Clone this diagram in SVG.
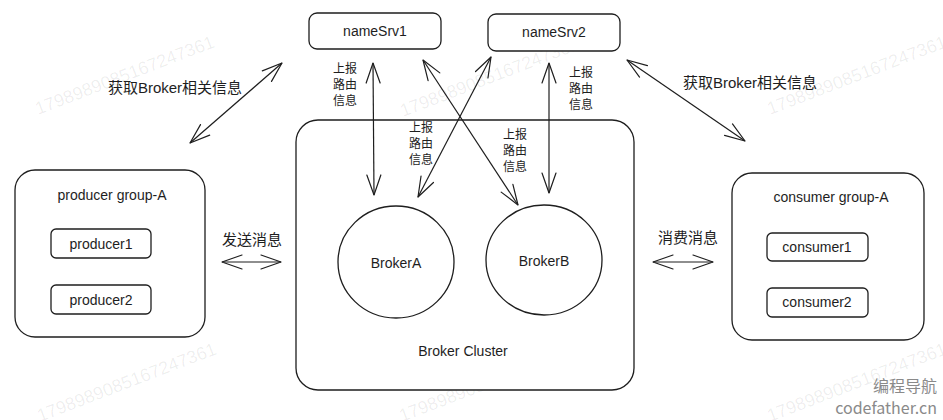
<svg xmlns="http://www.w3.org/2000/svg" width="943" height="420" viewBox="0 0 943 420">
<style>
.box{fill:#fff;stroke:#1e1e1e;stroke-width:1.3}
.lbl{font-family:"Liberation Sans","DejaVu Sans",sans-serif;font-size:14px;fill:#1e1e1e;text-anchor:middle}
.cjk{font-family:"Liberation Sans","Noto Sans CJK SC",sans-serif;font-size:15px;fill:#1e1e1e;text-anchor:middle}
.sm{font-family:"Noto Sans CJK SC",sans-serif;font-size:12px;fill:#1e1e1e;text-anchor:middle}
.con{fill:none;stroke:#1e1e1e;stroke-width:1.2;marker-start:url(#ah);marker-end:url(#ah)}
.wm{font-family:"Liberation Sans",sans-serif;font-size:18px;fill:#000;fill-opacity:0.07}
.logo{font-family:"Noto Sans CJK SC",sans-serif;font-size:16px;fill:#8a8a8a;text-anchor:end}
</style>
<defs>
<marker id="ah" viewBox="-22 -10 24 20" markerWidth="24" markerHeight="20" refX="0" refY="0" orient="auto-start-reverse" markerUnits="userSpaceOnUse">
<path d="M-20 -7 L0 0 L-20 7" fill="none" stroke="#1e1e1e" stroke-width="1.2" stroke-linecap="round" stroke-linejoin="round"/>
</marker>
</defs>
<rect width="943" height="420" fill="#fff"/>

<g id="watermarks">
<text class="wm" transform="translate(38,115) rotate(-21)">1798989085167247361</text>
<text class="wm" transform="translate(403,117) rotate(-21)">1798989085167247361</text>
<text class="wm" transform="translate(770,115) rotate(-21)">1798989085167247361</text>
<text class="wm" transform="translate(40,422) rotate(-21)">1798989085167247361</text>
<text class="wm" transform="translate(402,422) rotate(-21)">1798989085167247361</text>
<text class="wm" transform="translate(770,422) rotate(-21)">1798989085167247361</text>
</g>

<g id="broker-cluster">
<rect class="box" x="296" y="120" width="338" height="270" rx="22"/>
<text class="lbl" x="463" y="356">Broker Cluster</text>
</g>

<g id="namesrv1">
<rect class="box" x="309" y="13" width="132" height="36" rx="8"/>
<text class="lbl" x="375" y="36">nameSrv1</text>
</g>
<g id="namesrv2">
<rect class="box" x="488" y="14" width="132" height="37" rx="8"/>
<text class="lbl" x="554" y="37">nameSrv2</text>
</g>

<g id="brokerA">
<ellipse class="box" cx="396" cy="262" rx="58" ry="56"/>
<text class="lbl" x="396" y="268">BrokerA</text>
</g>
<g id="brokerB">
<ellipse class="box" cx="544" cy="260" rx="58" ry="55"/>
<text class="lbl" x="544" y="266">BrokerB</text>
</g>

<g id="producer-group">
<rect class="box" x="15" y="170" width="190" height="167" rx="20"/>
<text class="lbl" x="112" y="200">producer group-A</text>
</g>
<g id="producer1">
<rect class="box" x="51" y="229" width="100" height="29" rx="5"/>
<text class="lbl" x="101" y="249">producer1</text>
</g>
<g id="producer2">
<rect class="box" x="51" y="285" width="100" height="29" rx="5"/>
<text class="lbl" x="101" y="305">producer2</text>
</g>

<g id="consumer-group">
<rect class="box" x="732" y="173" width="192" height="167" rx="20"/>
<text class="lbl" x="831" y="202">consumer group-A</text>
</g>
<g id="consumer1">
<rect class="box" x="767" y="233" width="101" height="28" rx="5"/>
<text class="lbl" x="817" y="252">consumer1</text>
</g>
<g id="consumer2">
<rect class="box" x="767" y="288" width="101" height="29" rx="5"/>
<text class="lbl" x="817" y="307">consumer2</text>
</g>

<g id="connectors">
<line class="con" x1="373" y1="63" x2="374" y2="195"/>
<line class="con" x1="423" y1="60" x2="518" y2="205"/>
<line class="con" x1="491" y1="57" x2="418" y2="197"/>
<line class="con" x1="549" y1="63" x2="549" y2="193"/>
<line class="con" x1="190" y1="143" x2="282" y2="63"/>
<line class="con" x1="627" y1="60" x2="745" y2="141"/>
<line class="con" x1="222" y1="262" x2="281" y2="262"/>
<line class="con" x1="653" y1="262" x2="713" y2="262"/>
</g>

<g id="labels">
<text class="cjk" x="175" y="93">获取Broker相关信息</text>
<text class="cjk" x="750" y="88">获取Broker相关信息</text>
<text class="cjk" x="252" y="245">发送消息</text>
<text class="cjk" x="688" y="243">消费消息</text>
<text class="sm"><tspan x="345" y="73">上报</tspan><tspan x="345" y="89">路由</tspan><tspan x="345" y="105">信息</tspan></text>
<text class="sm"><tspan x="421" y="132">上报</tspan><tspan x="421" y="148">路由</tspan><tspan x="421" y="164">信息</tspan></text>
<text class="sm"><tspan x="515" y="139">上报</tspan><tspan x="515" y="155">路由</tspan><tspan x="515" y="171">信息</tspan></text>
<text class="sm"><tspan x="581" y="77">上报</tspan><tspan x="581" y="93">路由</tspan><tspan x="581" y="109">信息</tspan></text>
</g>

<g id="logo">
<text class="logo" x="937" y="392">编程导航</text>
<text class="logo" x="937" y="414">codefather.cn</text>
</g>
</svg>
